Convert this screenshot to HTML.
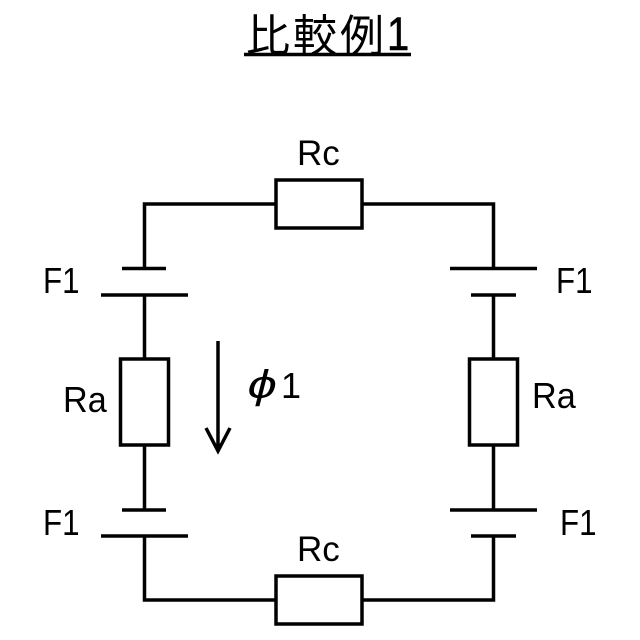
<!DOCTYPE html>
<html><head><meta charset="utf-8"><style>html,body{margin:0;padding:0;background:#fff}svg{display:block}text{font-family:"Liberation Sans","Noto Sans CJK JP",sans-serif;fill:#000}</style></head><body>
<svg width="640" height="640" viewBox="0 0 640 640" xmlns="http://www.w3.org/2000/svg">
<rect width="640" height="640" fill="#fff"/>
<g fill="none" stroke="#000" stroke-width="3.5">
<path d="M144.500 268V204H276M362 204H493.500V268"/>
<path d="M144.500 295V359M144.500 445V510M144.500 536V600H276M362 600H493.500V536M493.500 510V445M493.500 359V295"/>
<rect x="276" y="180" width="86" height="48" fill="#fff"/>
<rect x="276" y="576" width="86" height="48" fill="#fff"/>
<rect x="120.500" y="359" width="48" height="86" fill="#fff"/>
<rect x="469.500" y="359" width="48" height="86" fill="#fff"/>
<path d="M101 295H188M122 268.500H166M122 510H166M101 536H188"/>
<path d="M450 268.500H537M471 295H516M450 510H537M471 536H516"/>
<path d="M218 341V450M206 428L218 451L230 428"/>
<path d="M244 54.500H411" stroke-width="3.500"/>
</g>
<g font-size="44">
<text x="246" y="51">比</text>
<text x="293" y="51">較</text>
<text x="340" y="51">例</text>
</g>
<text transform="translate(387 50) scale(.85 1)" font-size="47" stroke="#000" stroke-width=".6">1</text>
<text transform="translate(297 165)" font-size="35">Rc</text>
<text transform="translate(297 561)" font-size="35">Rc</text>
<text transform="translate(63 412) scale(.95 1)" font-size="36">Ra</text>
<text transform="translate(532 408) scale(.95 1)" font-size="36">Ra</text>
<text transform="translate(43 293) scale(.87 1)" font-size="36">F1</text>
<text transform="translate(556 293) scale(.87 1)" font-size="36">F1</text>
<text transform="translate(43 535) scale(.87 1)" font-size="36">F1</text>
<text transform="translate(560 535) scale(.87 1)" font-size="36">F1</text>
<text transform="translate(245 398) skewX(-14) scale(1.3 1)" font-size="40">ϕ</text>
<text transform="translate(281 398)" font-size="36">1</text>
</svg>
</body></html>
